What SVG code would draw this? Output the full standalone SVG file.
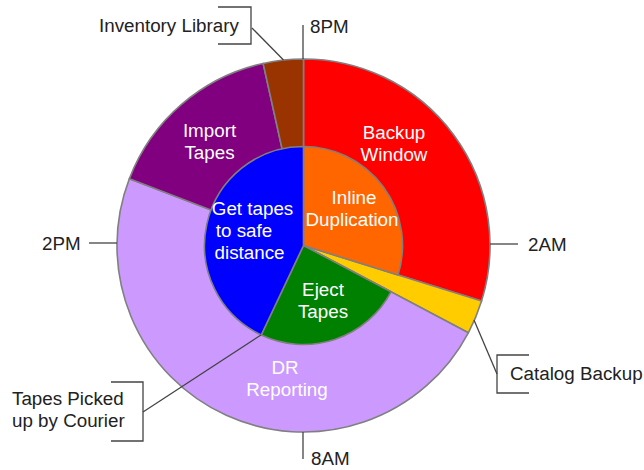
<svg xmlns="http://www.w3.org/2000/svg" width="644" height="470" viewBox="0 0 644 470">
<style>
.seg{stroke:#808080;stroke-width:1.6;stroke-linejoin:round}
.lbl{font-family:"Liberation Sans",Arial,sans-serif;font-size:18.8px;fill:#222}
.in{font-family:"Liberation Sans",Arial,sans-serif;font-size:18.8px;fill:#fff;text-anchor:middle}
.ld{fill:none;stroke:#444;stroke-width:1.3}
</style>
<rect width="644" height="470" fill="#fff"/>
<g id="outer-ring">
<path id="backup-window" class="seg" fill="#FF0000" d="M303.5,245.5 L303.5,59 A186.5,186.5 0 0 1 481.57,300.96 Z"/>
<path id="catalog-backup" class="seg" fill="#FFCC00" d="M303.5,245.5 L481.57,300.96 A186.5,186.5 0 0 1 468.33,332.77 Z"/>
<path id="dr-reporting" class="seg" fill="#CC99FF" d="M303.5,245.5 L468.33,332.77 A186.5,186.5 0 0 1 129.39,178.66 Z"/>
<path id="import-tapes" class="seg" fill="#800080" d="M303.5,245.5 L129.39,178.66 A186.5,186.5 0 0 1 263.14,63.42 Z"/>
<path id="inventory-library" class="seg" fill="#993300" d="M303.5,245.5 L263.14,63.42 A186.5,186.5 0 0 1 303.5,59 Z"/>
</g>
<g id="inner-pie">
<path id="inline-duplication" class="seg" fill="#FF6600" d="M303.5,245.5 L303.5,146.5 A99,99 0 0 1 398.03,274.94 Z"/>
<path id="eject-tapes" class="seg" fill="#008000" d="M303.5,245.5 L391.0,291.82 A99,99 0 0 1 261.19,335.01 Z"/>
<path id="get-tapes" class="seg" fill="#0000FF" d="M303.5,245.5 L261.19,335.01 A99,99 0 0 1 303.5,146.5 Z"/>
</g>
<g id="connectors">
<line class="ld" x1="303" y1="25" x2="303" y2="59"/>
<line class="ld" x1="490" y1="244" x2="518" y2="244"/>
<line class="ld" x1="89" y1="243" x2="117" y2="243"/>
<line class="ld" x1="303" y1="432" x2="303" y2="459"/>
<polyline class="ld" points="218,7 251,7 251,44 218,44"/>
<line class="ld" x1="252" y1="28" x2="283.5" y2="60"/>
<polyline class="ld" points="529,355 497,355 497,393 529,393"/>
<line class="ld" x1="474" y1="320" x2="497" y2="374"/>
<polyline class="ld" points="111,382 143,382 143,441 111,441"/>
<line class="ld" x1="143" y1="412" x2="261" y2="335"/>
</g>
<g id="labels">
<text class="lbl" x="99" y="32">Inventory Library</text>
<text class="lbl" x="310" y="33">8PM</text>
<text class="lbl" x="528" y="251">2AM</text>
<text class="lbl" x="42" y="250">2PM</text>
<text class="lbl" x="510" y="380">Catalog Backup</text>
<text class="lbl" x="12" y="405">Tapes Picked</text>
<text class="lbl" x="12" y="427">up by Courier</text>
<text class="lbl" x="311" y="465">8AM</text>
</g>
<g id="inner-labels">
<text class="in" x="394" y="139">Backup</text>
<text class="in" x="394" y="161">Window</text>
<text class="in" x="209.5" y="137">Import</text>
<text class="in" x="209.5" y="159">Tapes</text>
<text class="in" x="354" y="204">Inline</text>
<text class="in" x="352" y="226">Duplication</text>
<text class="in" x="252.5" y="215">Get tapes</text>
<text class="in" x="244" y="237">to safe</text>
<text class="in" x="249.5" y="259">distance</text>
<text class="in" x="323" y="296">Eject</text>
<text class="in" x="323" y="318">Tapes</text>
<text class="in" x="285" y="374">DR</text>
<text class="in" x="287" y="396">Reporting</text>
</g>
</svg>
